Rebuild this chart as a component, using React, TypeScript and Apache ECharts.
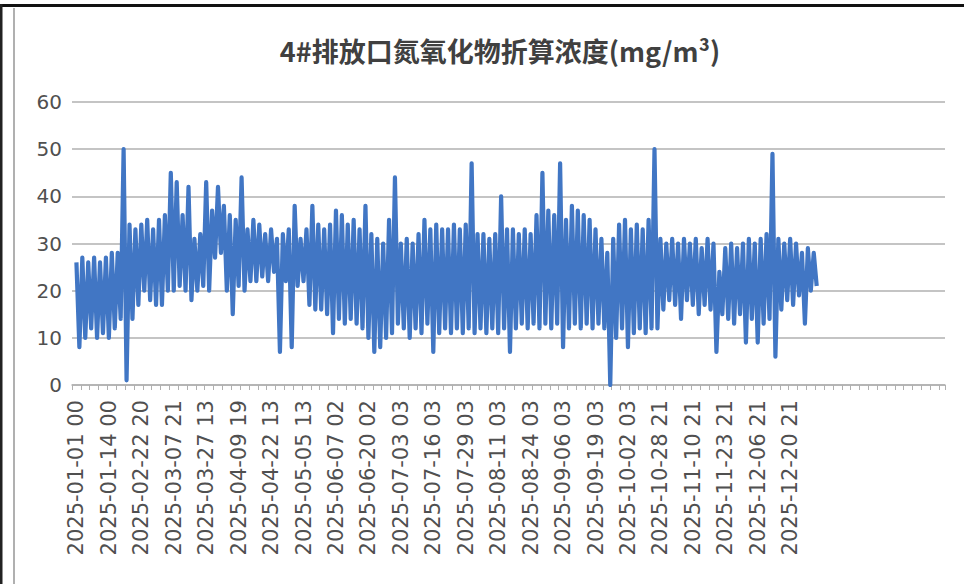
import React, { useEffect, useRef } from "react";
import * as echarts from "echarts";

const titleText = "4#排放口氮氧化物折算浓度(mg/m³)";

const tickLabels = [
  "2025-01-01 00", "2025-01-14 00", "2025-02-22 20", "2025-03-07 21", "2025-03-27 13",
  "2025-04-09 19", "2025-04-22 13", "2025-05-05 13", "2025-06-07 02", "2025-06-20 02",
  "2025-07-03 03", "2025-07-16 03", "2025-07-29 03", "2025-08-11 03", "2025-08-24 03",
  "2025-09-06 03", "2025-09-19 03", "2025-10-02 03", "2025-10-28 21", "2025-11-10 21",
  "2025-11-23 21", "2025-12-06 21", "2025-12-20 21",
];

const nox = [
  26, 8, 27, 10, 26, 12, 27, 10, 26, 11, 27, 10, 28, 12, 28, 14, 50, 1, 34, 14,
  33, 17, 34, 20, 35, 18, 33, 17, 35, 17, 36, 20, 45, 20, 43, 21, 36, 20, 42, 18,
  31, 20, 32, 21, 43, 20, 37, 27, 42, 28, 38, 20, 36, 15, 35, 21, 44, 20, 33, 22,
  35, 22, 34, 23, 32, 22, 33, 24, 31, 7, 32, 22, 33, 8, 38, 21, 31, 22, 33, 17,
  38, 16, 34, 16, 33, 15, 34, 11, 37, 14, 36, 13, 34, 14, 35, 13, 33, 12, 38, 10,
  32, 7, 31, 8, 30, 10, 35, 11, 44, 13, 30, 12, 31, 10, 30, 12, 32, 11, 35, 13,
  33, 7, 34, 11, 33, 12, 33, 11, 34, 12, 33, 11, 34, 12, 47, 11, 32, 12, 32, 11,
  31, 12, 32, 11, 40, 12, 33, 7, 33, 12, 32, 13, 33, 12, 32, 13, 36, 12, 45, 13,
  37, 12, 36, 13, 47, 8, 35, 12, 38, 13, 37, 12, 36, 13, 35, 12, 33, 13, 31, 12,
  28, 0, 31, 10, 34, 12, 35, 8, 33, 11, 34, 12, 33, 11, 35, 12, 50, 12, 31, 16,
  30, 18, 31, 17, 30, 14, 31, 18, 30, 17, 31, 15, 29, 17, 31, 16, 30, 7, 24, 15,
  29, 14, 30, 13, 29, 15, 30, 9, 31, 14, 30, 9, 31, 13, 32, 14, 49, 6, 31, 16,
  30, 18, 31, 17, 30, 19, 28, 13, 29, 20, 28, 21,
];

const yTicks = [0, 10, 20, 30, 40, 50, 60];

const labelStep = 11;
const labelOffset = 1;
const categoryCount = 296;

export default function App() {
  const ref = useRef<HTMLDivElement>(null);

  useEffect(() => {
    if (!ref.current) return;
    const chart = echarts.init(ref.current, undefined, { renderer: "svg" });

    const categories: string[] = [];
    for (let i = 0; i < categoryCount; i++) {
      const k = i - labelOffset;
      categories.push(k >= 0 && k % labelStep === 0 ? tickLabels[k / labelStep] ?? "" : "");
    }
    const seriesData: (number | null)[] = [null, ...nox];

    chart.setOption({
      animation: false,
      backgroundColor: "#ffffff",
      title: {
        text: titleText,
        left: 495,
        top: 32,
        textAlign: "center",
        textStyle: {
          fontFamily: "Noto Sans CJK SC",
          fontSize: 27,
          fontWeight: "bold",
          color: "#404040",
        },
      },
      grid: { left: 72, right: 19, top: 102, bottom: 199, containLabel: false },
      xAxis: {
        type: "category",
        data: categories,
        boundaryGap: true,
        axisLine: { lineStyle: { color: "#b0b0b0", width: 1.5 } },
        axisTick: {
          show: true,
          interval: 2,
          length: 5,
          lineStyle: { color: "#b0b0b0" },
        },
        axisLabel: {
          interval: (index: number) => index >= labelOffset && (index - labelOffset) % labelStep === 0,
          rotate: 90,
          margin: 15,
          fontFamily: "DejaVu Sans",
          fontSize: 21,
          color: "#505050",
        },
        splitLine: { show: false },
      },
      yAxis: {
        type: "value",
        min: yTicks[0],
        max: yTicks[yTicks.length - 1],
        interval: 10,
        axisLine: { show: false },
        axisTick: { show: false },
        axisLabel: {
          margin: 10,
          fontFamily: "DejaVu Sans",
          fontSize: 20,
          color: "#505050",
        },
        splitLine: { lineStyle: { color: "#b0b0b0", width: 1.5 } },
      },
      series: [
        {
          type: "line",
          data: seriesData,
          symbol: "none",
          lineStyle: { color: "#4176c4", width: 4.2, join: "round" },
          itemStyle: { color: "#4176c4" },
        },
      ],
      graphic: [
        { type: "rect", shape: { x: 0, y: 4, width: 964, height: 3 }, style: { fill: "#111111" }, silent: true },
        { type: "rect", shape: { x: 0, y: 4, width: 2.5, height: 580 }, style: { fill: "#222222" }, silent: true },
        { type: "rect", shape: { x: 13, y: 8, width: 2, height: 576 }, style: { fill: "#b0b0b0" }, silent: true },
      ],
    });

    return () => chart.dispose();
  }, []);

  return (
    <div
      ref={ref}
      style={{ position: "fixed", left: 0, top: 0, width: 964, height: 584, background: "#fff" }}
    />
  );
}
